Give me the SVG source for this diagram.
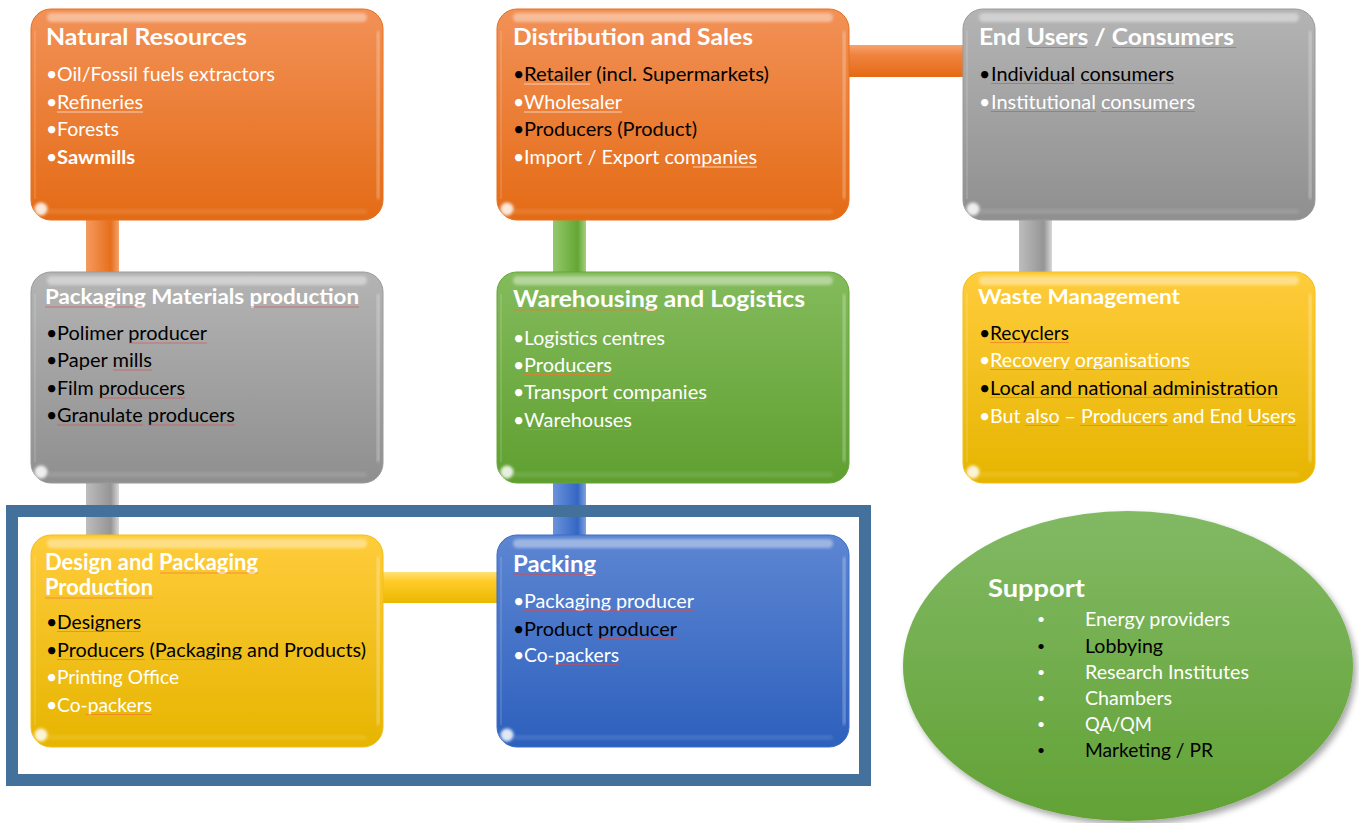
<svg xmlns="http://www.w3.org/2000/svg" xmlns:xlink="http://www.w3.org/1999/xlink" width="1359" height="823" viewBox="0 0 1359 823">
  <style>
    text { font-family: "Lato", "Open Sans", "DejaVu Sans", sans-serif; }
    .t { font-weight: 700; fill: #ffffff; }
    .b { font-size: 19.5px; }
    .w { fill: #ffffff; }
    .k { fill: #000000; }
    .box { stroke-width: 1; }
    .sq line { stroke-width: 1; }
    .sq-r line { stroke: #d94a4a; opacity: .6; }
    .sq-o line { stroke: #f07a30; opacity: .7; }
    .sq-l line { stroke: #fde3d8; opacity: .8; }
  </style>
  <defs>
    <linearGradient id="gOrange" x1="0" y1="0" x2="0" y2="1">
      <stop offset="0" stop-color="#f29157"/>
      <stop offset="1" stop-color="#e46b15"/>
    </linearGradient>
    <linearGradient id="gGray" x1="0" y1="0" x2="0" y2="1">
      <stop offset="0" stop-color="#b4b4b4"/>
      <stop offset="1" stop-color="#8f8f8f"/>
    </linearGradient>
    <linearGradient id="gGreen" x1="0" y1="0" x2="0" y2="1">
      <stop offset="0" stop-color="#84bb5c"/>
      <stop offset="1" stop-color="#5f9f30"/>
    </linearGradient>
    <linearGradient id="gYellow" x1="0" y1="0" x2="0" y2="1">
      <stop offset="0" stop-color="#ffcc3c"/>
      <stop offset="1" stop-color="#e6b500"/>
    </linearGradient>
    <linearGradient id="gBlue" x1="0" y1="0" x2="0" y2="1">
      <stop offset="0" stop-color="#5d86d2"/>
      <stop offset="1" stop-color="#2d60bd"/>
    </linearGradient>
    <linearGradient id="gSupport" x1="0" y1="0" x2="0" y2="1">
      <stop offset="0" stop-color="#82b964"/>
      <stop offset="1" stop-color="#62a236"/>
    </linearGradient>
    <!-- bars: vertical ones shade left to right, horizontal ones top to bottom -->
    <linearGradient id="vOrange" x1="0" y1="0" x2="1" y2="0">
      <stop offset="0" stop-color="#f59a5e"/>
      <stop offset=".75" stop-color="#e66f1c"/>
      <stop offset="1" stop-color="#f3a36e"/>
    </linearGradient>
    <linearGradient id="vGray" x1="0" y1="0" x2="1" y2="0">
      <stop offset="0" stop-color="#bdbdbd"/>
      <stop offset=".75" stop-color="#959595"/>
      <stop offset="1" stop-color="#d8d8d8"/>
    </linearGradient>
    <linearGradient id="vGreen" x1="0" y1="0" x2="1" y2="0">
      <stop offset="0" stop-color="#94c86c"/>
      <stop offset=".75" stop-color="#64a634"/>
      <stop offset="1" stop-color="#a3d17d"/>
    </linearGradient>
    <linearGradient id="vBlue" x1="0" y1="0" x2="1" y2="0">
      <stop offset="0" stop-color="#6b93db"/>
      <stop offset=".75" stop-color="#3566c3"/>
      <stop offset="1" stop-color="#7fa2e0"/>
    </linearGradient>
    <linearGradient id="hOrange" x1="0" y1="0" x2="0" y2="1">
      <stop offset="0" stop-color="#f7a46e"/>
      <stop offset=".3" stop-color="#ef8440"/>
      <stop offset="1" stop-color="#e46a14"/>
    </linearGradient>
    <linearGradient id="hYellow" x1="0" y1="0" x2="0" y2="1">
      <stop offset="0" stop-color="#ffe27a"/>
      <stop offset=".3" stop-color="#ffcb2a"/>
      <stop offset="1" stop-color="#eab800"/>
    </linearGradient>
    <filter id="soft" x="-20%" y="-20%" width="140%" height="140%">
      <feGaussianBlur stdDeviation="1.4"/>
    </filter>
    <filter id="shadow" x="-10%" y="-10%" width="125%" height="125%">
      <feDropShadow dx="3" dy="4" stdDeviation="3" flood-color="#000000" flood-opacity=".35"/>
    </filter>
    <!-- glossy bevel overlay shared by every 352x211 box -->
    <g id="gloss">
      <rect x="16" y="4" width="320" height="9" rx="4.5" fill="#ffffff" opacity=".4" filter="url(#soft)"/>
      <rect x="346" y="22" width="2.5" height="168" rx="1.2" fill="#ffffff" opacity=".4" filter="url(#soft)"/>
      <rect x="3" y="22" width="2" height="168" fill="#ffffff" opacity=".12"/>
      <rect x="16" y="200" width="320" height="5" rx="2.5" fill="#ffffff" opacity=".1" filter="url(#soft)"/>
      <ellipse cx="10" cy="200" rx="6.5" ry="6.5" fill="#ffffff" opacity=".85" filter="url(#soft)"/>
    </g>
  </defs>

  <rect width="1359" height="823" fill="#ffffff"/>

  <!-- connectors -->
  <g id="connectors">
    <rect x="86" y="216" width="33" height="60" fill="url(#vOrange)"/>
    <rect x="86" y="479" width="33" height="60" fill="url(#vGray)"/>
    <rect x="553" y="216" width="33" height="60" fill="url(#vGreen)"/>
    <rect x="553" y="479" width="33" height="60" fill="url(#vBlue)"/>
    <rect x="1019" y="216" width="33" height="60" fill="url(#vGray)"/>
    <rect x="845" y="45" width="122" height="32" fill="url(#hOrange)"/>
    <rect x="378" y="572" width="123" height="31" fill="url(#hYellow)"/>
  </g>

  <!-- frame around the packaging core -->
  <rect id="core-frame" x="12" y="511" width="853" height="269" fill="none" stroke="#44719c" stroke-width="12"/>

  <!-- Natural Resources -->
  <g id="natural-resources">
    <rect class="box" x="31" y="9" width="352" height="211" rx="20" fill="url(#gOrange)" stroke="#e6701e"/>
    <use xlink:href="#gloss" x="31" y="9"/>
    <text class="t" x="46" y="45" font-size="23.5" textLength="201" lengthAdjust="spacingAndGlyphs">Natural Resources</text>
    <g class="b w">
      <text x="46" y="81">•</text><text x="57" y="81" textLength="218" lengthAdjust="spacingAndGlyphs">Oil/Fossil fuels extractors</text>
      <text x="46" y="109">•</text><text x="57" y="109" textLength="86" lengthAdjust="spacingAndGlyphs">Refineries</text>
      <text x="46" y="136">•</text><text x="57" y="136" textLength="62" lengthAdjust="spacingAndGlyphs">Forests</text>
      <text x="46" y="164">•</text><text x="57" y="164" font-weight="700" textLength="78" lengthAdjust="spacingAndGlyphs">Sawmills</text>
    </g>
    <g class="sq sq-l"><line x1="57" y1="112" x2="143" y2="112"/></g>
  </g>

  <!-- Distribution and Sales -->
  <g id="distribution-sales">
    <rect class="box" x="497" y="9" width="352" height="211" rx="20" fill="url(#gOrange)" stroke="#e6701e"/>
    <use xlink:href="#gloss" x="497" y="9"/>
    <text class="t" x="513" y="45" font-size="23.5" textLength="240" lengthAdjust="spacingAndGlyphs">Distribution and Sales</text>
    <g class="b">
      <text class="k" x="513" y="81">•</text><text class="k" x="524" y="81" textLength="245" lengthAdjust="spacingAndGlyphs">Retailer (incl. Supermarkets)</text>
      <text class="w" x="513" y="109">•</text><text class="w" x="524" y="109" textLength="98" lengthAdjust="spacingAndGlyphs">Wholesaler</text>
      <text class="k" x="513" y="136">•</text><text class="k" x="524" y="136" textLength="173" lengthAdjust="spacingAndGlyphs">Producers (Product)</text>
      <text class="w" x="513" y="164">•</text><text class="w" x="524" y="164" textLength="233" lengthAdjust="spacingAndGlyphs">Import / Export companies</text>
    </g>
    <g class="sq sq-l">
      <line x1="524" y1="84" x2="590" y2="84" opacity=".35"/>
      <line x1="524" y1="112" x2="622" y2="112"/>
      <line x1="693" y1="167" x2="757" y2="167" opacity=".35"/>
    </g>
  </g>

  <!-- End Users / Consumers -->
  <g id="end-users">
    <rect class="box" x="963" y="9" width="352" height="211" rx="20" fill="url(#gGray)" stroke="#9a9a9a"/>
    <use xlink:href="#gloss" x="963" y="9"/>
    <text class="t" x="979" y="45" font-size="23.5" textLength="255" lengthAdjust="spacingAndGlyphs">End Users / Consumers</text>
    <g class="b">
      <text class="k" x="979" y="81">•</text><text class="k" x="991" y="81" textLength="183" lengthAdjust="spacingAndGlyphs">Individual consumers</text>
      <text class="w" x="979" y="109">•</text><text class="w" x="991" y="109" textLength="204" lengthAdjust="spacingAndGlyphs">Institutional consumers</text>
    </g>
    <g class="sq sq-r">
      <line x1="1026" y1="47.5" x2="1087" y2="47.5"/>
      <line x1="1112" y1="47.5" x2="1236" y2="47.5"/>
      <line x1="991" y1="83.5" x2="1074" y2="83.5"/>
      <line x1="1081" y1="83.5" x2="1174" y2="83.5"/>
      <line x1="991" y1="111.5" x2="1096" y2="111.5"/>
      <line x1="1101" y1="111.5" x2="1195" y2="111.5"/>
    </g>
  </g>

  <!-- Packaging Materials production -->
  <g id="packaging-materials">
    <rect class="box" x="31" y="272" width="352" height="211" rx="20" fill="url(#gGray)" stroke="#9a9a9a"/>
    <use xlink:href="#gloss" x="31" y="272"/>
    <text class="t" x="45" y="304" font-size="21" textLength="314" lengthAdjust="spacingAndGlyphs">Packaging Materials production</text>
    <g class="b k">
      <text x="46" y="340">•</text><text x="57" y="340" textLength="150" lengthAdjust="spacingAndGlyphs">Polimer producer</text>
      <text x="46" y="367">•</text><text x="57" y="367" textLength="95" lengthAdjust="spacingAndGlyphs">Paper mills</text>
      <text x="46" y="395">•</text><text x="57" y="395" textLength="128" lengthAdjust="spacingAndGlyphs">Film producers</text>
      <text x="46" y="422">•</text><text x="57" y="422" textLength="178" lengthAdjust="spacingAndGlyphs">Granulate producers</text>
    </g>
    <g class="sq sq-r">
      <line x1="45" y1="307" x2="143" y2="307"/>
      <line x1="250" y1="307" x2="359" y2="307"/>
      <line x1="129" y1="343" x2="207" y2="343"/>
      <line x1="113" y1="370" x2="152" y2="370"/>
      <line x1="99" y1="398" x2="185" y2="398"/>
      <line x1="57" y1="425" x2="143" y2="425"/>
      <line x1="148" y1="425" x2="235" y2="425"/>
    </g>
  </g>

  <!-- Warehousing and Logistics -->
  <g id="warehousing-logistics">
    <rect class="box" x="497" y="272" width="352" height="211" rx="20" fill="url(#gGreen)" stroke="#66a538"/>
    <use xlink:href="#gloss" x="497" y="272"/>
    <text class="t" x="513" y="307" font-size="22.5" textLength="292" lengthAdjust="spacingAndGlyphs">Warehousing and Logistics</text>
    <g class="b w">
      <text x="513" y="345">•</text><text x="524" y="345" textLength="141" lengthAdjust="spacingAndGlyphs">Logistics centres</text>
      <text x="513" y="372">•</text><text x="524" y="372" textLength="88" lengthAdjust="spacingAndGlyphs">Producers</text>
      <text x="513" y="399">•</text><text x="524" y="399" textLength="183" lengthAdjust="spacingAndGlyphs">Transport companies</text>
      <text x="513" y="427">•</text><text x="524" y="427" textLength="108" lengthAdjust="spacingAndGlyphs">Warehouses</text>
    </g>
    <g class="sq sq-o">
      <line x1="513" y1="310" x2="658" y2="310"/>
      <line x1="602" y1="347.5" x2="665" y2="347.5"/>
      <line x1="524" y1="374.5" x2="612" y2="374.5"/>
      <line x1="614" y1="401.5" x2="707" y2="401.5"/>
      <line x1="524" y1="429.5" x2="632" y2="429.5"/>
    </g>
  </g>

  <!-- Waste Management -->
  <g id="waste-management">
    <rect class="box" x="963" y="272" width="352" height="211" rx="20" fill="url(#gYellow)" stroke="#f0bf1a"/>
    <use xlink:href="#gloss" x="963" y="272"/>
    <text class="t" x="978" y="304" font-size="20.5" textLength="202" lengthAdjust="spacingAndGlyphs">Waste Management</text>
    <g class="b">
      <text class="k" x="979" y="340">•</text><text class="k" x="990" y="340" textLength="79" lengthAdjust="spacingAndGlyphs">Recyclers</text>
      <text class="w" x="979" y="367">•</text><text class="w" x="990" y="367" textLength="200" lengthAdjust="spacingAndGlyphs">Recovery organisations</text>
      <text class="k" x="979" y="395">•</text><text class="k" x="990" y="395" textLength="288" lengthAdjust="spacingAndGlyphs">Local and national administration</text>
      <text class="w" x="979" y="423">•</text><text class="w" x="990" y="423" textLength="306" lengthAdjust="spacingAndGlyphs">But also – Producers and End Users</text>
    </g>
    <g class="sq sq-o">
      <line x1="990" y1="342.5" x2="1069" y2="342.5"/>
      <line x1="990" y1="369.5" x2="1069" y2="369.5"/>
      <line x1="1075" y1="369.5" x2="1190" y2="369.5"/>
      <line x1="990" y1="397.5" x2="1278" y2="397.5" opacity=".35"/>
      <line x1="1025" y1="425.5" x2="1059" y2="425.5"/>
      <line x1="1080" y1="425.5" x2="1168" y2="425.5"/>
      <line x1="1247" y1="425.5" x2="1296" y2="425.5"/>
    </g>
  </g>

  <!-- Design and Packaging Production -->
  <g id="design-packaging">
    <rect class="box" x="31" y="535" width="352" height="212" rx="20" fill="url(#gYellow)" stroke="#f0bf1a"/>
    <use xlink:href="#gloss" x="31" y="535"/>
    <text class="t" x="45" y="570" font-size="22" textLength="213" lengthAdjust="spacingAndGlyphs">Design and Packaging</text>
    <text class="t" x="45" y="595" font-size="22" textLength="108" lengthAdjust="spacingAndGlyphs">Production</text>
    <g class="b">
      <text class="k" x="46" y="629">•</text><text class="k" x="57" y="629" textLength="84" lengthAdjust="spacingAndGlyphs">Designers</text>
      <text class="k" x="46" y="657">•</text><text class="k" x="57" y="657" textLength="309" lengthAdjust="spacingAndGlyphs">Producers (Packaging and Products)</text>
      <text class="w" x="46" y="684">•</text><text class="w" x="57" y="684" textLength="122" lengthAdjust="spacingAndGlyphs">Printing Office</text>
      <text class="w" x="46" y="712">•</text><text class="w" x="57" y="712" textLength="95" lengthAdjust="spacingAndGlyphs">Co-packers</text>
    </g>
    <g class="sq sq-o">
      <line x1="160" y1="573" x2="258" y2="573"/>
      <line x1="45" y1="598" x2="153" y2="598"/>
      <line x1="57" y1="631.5" x2="141" y2="631.5"/>
      <line x1="57" y1="659.5" x2="145" y2="659.5"/>
      <line x1="156" y1="659.5" x2="240" y2="659.5"/>
      <line x1="86" y1="714.5" x2="152" y2="714.5" opacity=".35"/>
    </g>
  </g>

  <!-- Packing -->
  <g id="packing">
    <rect class="box" x="497" y="535" width="352" height="212" rx="20" fill="url(#gBlue)" stroke="#3a6cc8"/>
    <use xlink:href="#gloss" x="497" y="535"/>
    <text class="t" x="513" y="572" font-size="23" textLength="83" lengthAdjust="spacingAndGlyphs">Packing</text>
    <g class="b">
      <text class="w" x="513" y="608">•</text><text class="w" x="524" y="608" textLength="170" lengthAdjust="spacingAndGlyphs">Packaging producer</text>
      <text class="k" x="513" y="636">•</text><text class="k" x="524" y="636" textLength="153" lengthAdjust="spacingAndGlyphs">Product producer</text>
      <text class="w" x="513" y="662">•</text><text class="w" x="524" y="662" textLength="95" lengthAdjust="spacingAndGlyphs">Co-packers</text>
    </g>
    <g class="sq sq-r">
      <line x1="513" y1="574.5" x2="596" y2="574.5"/>
      <line x1="524" y1="610.5" x2="694" y2="610.5"/>
      <line x1="597" y1="638.5" x2="677" y2="638.5"/>
      <line x1="553" y1="664.5" x2="619" y2="664.5"/>
    </g>
  </g>

  <!-- Support -->
  <g id="support">
    <ellipse cx="1128" cy="666" rx="225" ry="155" fill="url(#gSupport)" filter="url(#shadow)"/>
    <text class="t" x="988" y="597" font-size="25" textLength="97" lengthAdjust="spacingAndGlyphs">Support</text>
    <g font-size="14">
      <text class="w" x="1037" y="624">•</text>
      <text class="k" x="1037" y="651">•</text>
      <text class="w" x="1037" y="677">•</text>
      <text class="w" x="1037" y="703">•</text>
      <text class="w" x="1037" y="729">•</text>
      <text class="k" x="1037" y="755">•</text>
    </g>
    <g class="b">
      <text class="w" x="1085" y="626" textLength="145" lengthAdjust="spacingAndGlyphs">Energy providers</text>
      <text class="k" x="1085" y="653" textLength="78" lengthAdjust="spacingAndGlyphs">Lobbying</text>
      <text class="w" x="1085" y="679" textLength="164" lengthAdjust="spacingAndGlyphs">Research Institutes</text>
      <text class="w" x="1085" y="705" textLength="87" lengthAdjust="spacingAndGlyphs">Chambers</text>
      <text class="w" x="1085" y="731" textLength="67" lengthAdjust="spacingAndGlyphs">QA/QM</text>
      <text class="k" x="1085" y="757" textLength="128" lengthAdjust="spacingAndGlyphs">Marketing / PR</text>
    </g>
  </g>
</svg>
